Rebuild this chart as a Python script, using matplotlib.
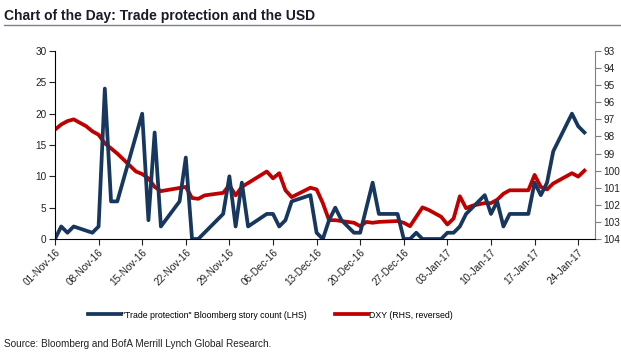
import matplotlib
matplotlib.use("Agg")
import matplotlib.pyplot as plt
import matplotlib.dates as mdates
import pandas as pd

# days counted from 01-Nov-16
start = pd.Timestamp("2016-11-01")

story_days = [0, 1, 2, 3, 6, 7, 8, 9, 10, 14, 15, 16, 17, 20, 21, 22, 23,
              27, 28, 29, 30, 31, 34, 35, 36, 37, 38, 41, 42, 43, 44, 45, 46,
              48, 49, 51, 52, 55, 56, 57, 58, 59, 62, 63, 64, 65, 66, 67,
              69, 70, 71, 72, 73, 76, 77, 78, 79, 80, 83, 84, 85]
story_count = [0, 2, 1, 2, 1, 2, 24, 6, 6, 20, 3, 17, 2, 6, 13, 0, 0,
               4, 10, 2, 9, 2, 4, 4, 2, 3, 6, 7, 1, 0, 3, 5, 3,
               1, 1, 9, 4, 4, 0, 0, 1, 0, 0, 1, 1, 2, 4, 5,
               7, 4, 6, 2, 4, 4, 9, 7, 9, 14, 20, 18, 17]

dxy_days = [0, 1, 2, 3, 5, 6, 7, 8, 10, 12, 13, 14, 15, 16, 17, 21, 22, 23, 24,
            27, 28, 29, 30, 34, 35, 36, 37, 38, 41, 42, 43, 44, 45, 48, 49, 50,
            51, 52, 55, 56, 57, 59, 60, 62, 63, 64, 65, 66, 67, 69, 70, 71, 72,
            73, 76, 77, 78, 79, 80, 83, 84, 85]
dxy = [97.6, 97.3, 97.1, 97.0, 97.4, 97.7, 97.9, 98.4, 99.0, 99.7, 100.05,
       100.2, 100.45, 100.95, 101.2, 100.95, 101.6, 101.65, 101.45,
       101.3, 100.85, 101.45, 100.95, 100.05, 100.45, 100.15, 101.15, 101.55,
       101.0, 101.1, 101.9, 102.9, 102.9, 103.05, 103.25, 103.0,
       103.05, 103.0, 102.95, 103.05, 103.25, 102.15, 102.3, 102.7, 103.15,
       102.8, 101.5, 102.2, 102.05, 101.9, 101.9, 101.7, 101.35,
       101.15, 101.15, 100.25, 100.95, 101.1, 100.75, 100.15, 100.35, 100.0]

story_dates = start + pd.to_timedelta(story_days, unit="D")
dxy_dates = start + pd.to_timedelta(dxy_days, unit="D")

navy = "#17375e"
red = "#c00000"
plt.rcParams["font.family"] = ["Liberation Sans Narrow", "Liberation Sans", "DejaVu Sans"]

fig = plt.figure(figsize=(6.21, 3.59), dpi=100)
ax = fig.add_axes([55 / 621, 1 - 239 / 359, 540 / 621, 188 / 359])
ax2 = ax.twinx()

l1, = ax.plot(story_dates, story_count, color=navy, lw=2.7,
              label='"Trade protection" Bloomberg story count (LHS)')
l2, = ax2.plot(dxy_dates, dxy, color=red, lw=2.7,
               label="DXY (RHS, reversed)")
ax.set_zorder(ax2.get_zorder() + 1)
ax.patch.set_visible(False)

ax.set_ylim(0, 30)
ax.set_yticks(range(0, 31, 5))
ax2.set_ylim(104, 93)
ax2.set_yticks(range(93, 105))

ax.set_xlim(start, start + pd.Timedelta(days=86.7))
ax.set_xticks(pd.date_range(start, periods=13, freq="7D"))
ax.xaxis.set_major_formatter(mdates.DateFormatter("%d-%b-%y"))
for lab in ax.get_xticklabels():
    lab.set_rotation(45)
    lab.set_ha("right")
    lab.set_rotation_mode("anchor")

for a in (ax, ax2):
    a.spines["top"].set_visible(False)
ax.spines["right"].set_visible(False)
ax2.spines["left"].set_visible(False)
ax2.spines["bottom"].set_visible(False)
ax2.spines["right"].set_color("#808080")
ax.tick_params(axis="both", labelsize=7.2, length=4, width=0.8, colors="#222222", pad=2)
ax2.tick_params(axis="y", labelsize=7.2, length=4, width=0.8, color="#808080",
                labelcolor="#222222", pad=2)

fig.legend(handles=[l1, l2], loc="center", bbox_to_anchor=(270 / 621, 1 - 315 / 359),
           ncol=2, frameon=False, fontsize=6.3, handlelength=3.8,
           handletextpad=0.1, columnspacing=3.2)

fig.text(0.007, 1 - 16 / 359, "Chart of the Day: Trade protection and the USD",
         fontsize=10, fontweight="bold", color="#1a1a2a", va="center", ha="left")
fig.add_artist(plt.Line2D([4 / 621, 1], [1 - 25 / 359, 1 - 25 / 359],
                          color="#7a828a", lw=1.0))
fig.text(0.007, 1 - 344 / 359, "Source: Bloomberg and BofA Merrill Lynch Global Research.",
         fontsize=7.2, color="#222222", va="center", ha="left")

fig.savefig("out.png", dpi=100)
